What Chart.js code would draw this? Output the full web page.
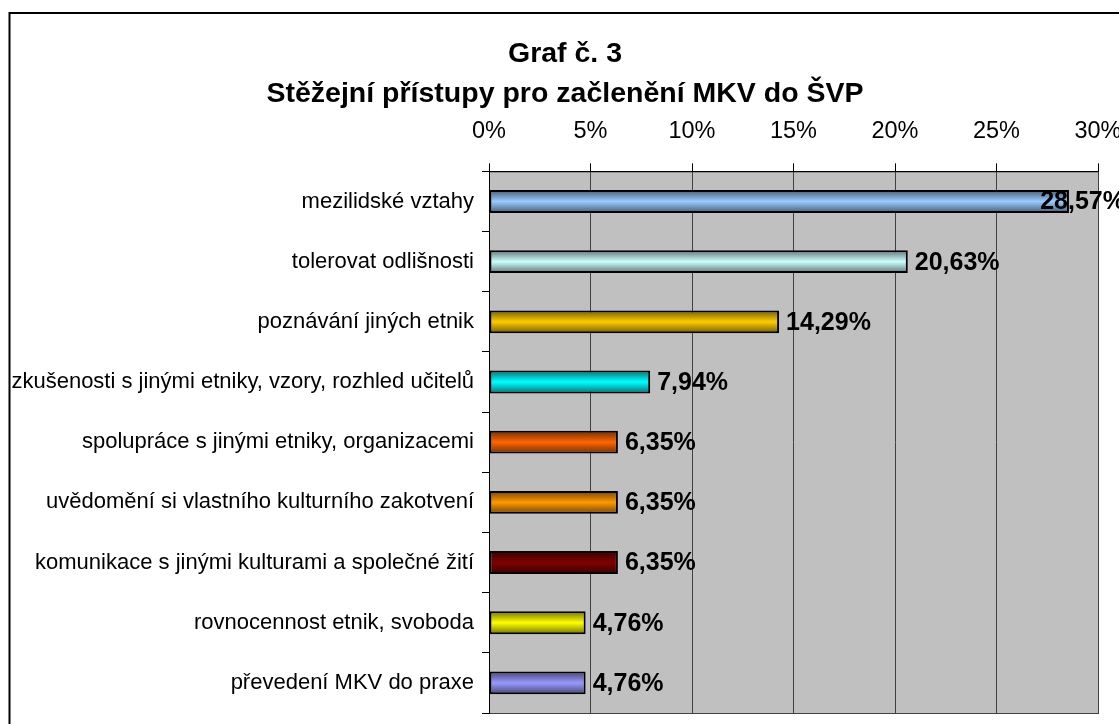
<!DOCTYPE html>
<html><head><meta charset="utf-8">
<script src="https://cdn.jsdelivr.net/npm/chart.js@4"></script>
<style>html,body{margin:0;padding:0;background:#fff;overflow:hidden;width:1119px;height:724px}
canvas{position:absolute;left:0;top:0}</style></head>
<body><canvas id="c" width="1121" height="724" style="width:1121px;height:724px"></canvas>
<script>
const titleLines = ['Graf č. 3', 'Stěžejní přístupy pro začlenění MKV do ŠVP'];
const categories = [
  'mezilidské vztahy',
  'tolerovat odlišnosti',
  'poznávání jiných etnik',
  'zkušenosti s jinými etniky, vzory, rozhled učitelů',
  'spolupráce s jinými etniky, organizacemi',
  'uvědomění si vlastního kulturního zakotvení',
  'komunikace s jinými kulturami a společné žití',
  'rovnocennost etnik, svoboda',
  'převedení MKV do praxe'
];
const values = [28.57, 20.63, 14.29, 7.94, 6.35, 6.35, 6.35, 4.76, 4.76];
const barColors = ['#99CCFF', '#CCFFFF', '#FFCC00', '#00FFFF', '#FF6600', '#FF9900', '#800000', '#FFFF00', '#9999FF'];
const xTicks = [0, 5, 10, 15, 20, 25, 30];

const FONT = "'Liberation Sans', Arial, sans-serif";

function shade(hex, f) {
  const n = parseInt(hex.slice(1), 16);
  const r = Math.round(((n >> 16) & 255) * f), g = Math.round(((n >> 8) & 255) * f), b = Math.round((n & 255) * f);
  return `rgb(${r},${g},${b})`;
}

const BAR_FRAC = 0.38;

const framePlugin = {
  id: 'frame',
  beforeDraw(chart) {
    const ctx = chart.ctx, a = chart.chartArea;
    ctx.save();
    ctx.fillStyle = '#fff';
    ctx.fillRect(0, 0, chart.width, chart.height);
    ctx.strokeStyle = '#000';
    ctx.lineWidth = 2;
    ctx.strokeRect(9.5, 13, chart.width + 20, chart.height + 20);
    ctx.fillStyle = '#C0C0C0';
    ctx.fillRect(a.left, a.top, a.right - a.left, a.bottom - a.top);
    ctx.strokeStyle = '#404040';
    ctx.lineWidth = 1;
    ctx.strokeRect(a.left + 0.5, a.top + 0.5, a.right - a.left, a.bottom - a.top);
    ctx.restore();
  }
};

const labelPlugin = {
  id: 'barLabels',
  afterDatasetsDraw(chart) {
    const ctx = chart.ctx;
    const meta = chart.getDatasetMeta(0);
    ctx.save();
    ctx.font = 'bold 25px ' + FONT;
    ctx.fillStyle = '#000';
    ctx.textBaseline = 'middle';
    ctx.textAlign = 'left';
    meta.data.forEach((el, i) => {
      const txt = values[i].toFixed(2).replace('.', ',') + '%';
      const w = ctx.measureText(txt).width;
      let x = el.x + 7;
      if (x + w > chart.width + 4) x = chart.width + 4 - w;
      ctx.fillText(txt, x, el.y + 1);
    });
    ctx.restore();
  }
};

new Chart(document.getElementById('c'), {
  type: 'bar',
  data: {
    labels: categories,
    datasets: [{
      data: values,
      backgroundColor: (c) => {
        const chart = c.chart, area = chart.chartArea;
        if (c.dataIndex === undefined) return '#999';
        const base = barColors[c.dataIndex];
        if (!area || !chart.scales.y) return base;
        const cy = chart.scales.y.getPixelForValue(c.dataIndex);
        const h = (area.bottom - area.top) / categories.length * BAR_FRAC;
        const g = chart.ctx.createLinearGradient(0, cy - h / 2, 0, cy + h / 2);
        g.addColorStop(0, shade(base, 0.45));
        g.addColorStop(0.5, base);
        g.addColorStop(1, shade(base, 0.45));
        return g;
      },
      borderColor: '#000',
      borderWidth: 2,
      borderSkipped: false,
      barPercentage: BAR_FRAC,
      categoryPercentage: 1
    }]
  },
  options: {
    indexAxis: 'y',
    responsive: false,
    animation: false,
    events: [],
    layout: { padding: { left: 9, right: 0, top: 0, bottom: 11 } },
    plugins: {
      legend: { display: false },
      tooltip: { enabled: false },
      title: {
        display: true,
        text: titleLines,
        color: '#000',
        font: { family: FONT, size: 28.5, weight: 'bold', lineHeight: 1.41 },
        padding: { top: 34, bottom: 3 }
      }
    },
    scales: {
      x: {
        type: 'linear',
        position: 'top',
        min: 0, max: 30,
        afterBuildTicks: (s) => { s.ticks = xTicks.map(v => ({ value: v })); },
        afterFit: (s) => { s.height = 54; s.paddingRight = 23; s.paddingLeft = 0; },
        ticks: {
          color: '#000',
          padding: 18,
          font: { family: FONT, size: 23.5 },
          callback: (v) => v + '%',
          maxRotation: 0
        },
        grid: { color: '#404040', lineWidth: 1, tickColor: '#000', tickLength: 8, drawTicks: true },
        border: { color: '#000', width: 1 }
      },
      y: {
        afterFit: (s) => { s.width = 480; s.paddingTop = 0; s.paddingBottom = 0; },
        ticks: {
          color: '#000',
          padding: 8,
          font: { family: FONT, size: 22 },
          autoSkip: false
        },
        grid: { drawOnChartArea: false, tickColor: '#000', tickLength: 7, offset: true },
        border: { color: '#000', width: 1 }
      }
    }
  },
  plugins: [framePlugin, labelPlugin]
});
</script>
</body></html>
